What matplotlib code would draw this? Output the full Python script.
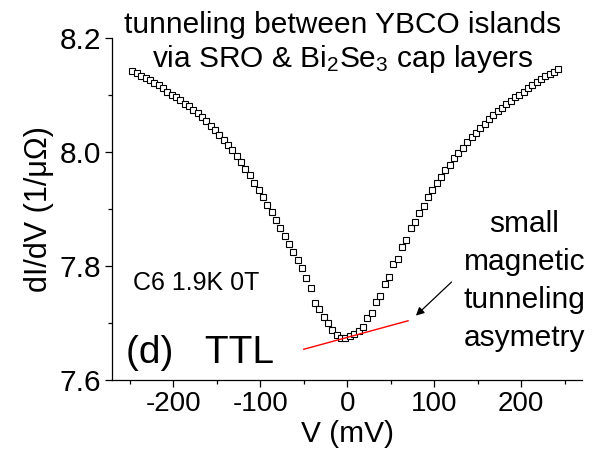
# ------------------------------------------------------ #
# dI/dV tunneling spectrum, YBCO islands via SRO & Bi2Se3
# ------------------------------------------------------ #
import matplotlib
matplotlib.use('Agg')
import matplotlib.pyplot as plt

# ------------------------------------------------------ #
# Data
# ------------------------------------------------------ #
bias_mv = [-247, -242, -237, -232, -227, -222, -217, -212, -207, -202,
           -197, -192, -187, -182, -177, -172, -167, -162, -157, -152,
           -147, -142, -137, -132, -127, -122, -117, -112, -107, -102,
           -97, -92, -87, -82, -77, -72, -67, -62, -57, -52,
           -47, -42, -37, -32, -27, -22, -17, -12, -7, -2,
           3, 8, 13, 18, 23, 28, 33, 38, 43, 48,
           53, 58, 63, 68, 73, 78, 83, 88, 93, 98,
           103, 108, 113, 118, 123, 128, 133, 138, 143, 148,
           153, 158, 163, 168, 173, 178, 183, 188, 193, 198,
           203, 208, 213, 218, 223, 228, 233, 238, 243]

didv = [8.142, 8.138, 8.134, 8.130, 8.126, 8.121, 8.117, 8.112, 8.106, 8.101,
        8.096, 8.091, 8.085, 8.080, 8.074, 8.068, 8.061, 8.054, 8.046, 8.038,
        8.030, 8.022, 8.013, 8.003, 7.993, 7.982, 7.971, 7.959, 7.946, 7.933,
        7.921, 7.908, 7.894, 7.880, 7.866, 7.852, 7.838, 7.824, 7.810, 7.796,
        7.779, 7.762, 7.735, 7.724, 7.710, 7.700, 7.687, 7.679, 7.673, 7.674,
        7.678, 7.680, 7.686, 7.693, 7.709, 7.718, 7.737, 7.748, 7.768, 7.781,
        7.803, 7.813, 7.834, 7.846, 7.866, 7.878, 7.893, 7.905, 7.922, 7.933,
        7.946, 7.956, 7.969, 7.978, 7.989, 7.998, 8.008, 8.017, 8.026, 8.034,
        8.043, 8.050, 8.058, 8.065, 8.072, 8.078, 8.085, 8.090, 8.096, 8.101,
        8.106, 8.112, 8.117, 8.123, 8.128, 8.133, 8.137, 8.141, 8.145]

# red asymmetry guide line (end points)
asym_v = [-50, 70]
asym_g = [7.654, 7.704]

x_ticks = [-200, -100, 0, 100, 200]
y_ticks = [7.6, 7.8, 8.0, 8.2]

# ------------------------------------------------------ #
# Style
# ------------------------------------------------------ #
plt.rcParams['font.family'] = ['Liberation Sans', 'DejaVu Sans']
plt.rcParams['mathtext.fontset'] = 'custom'
plt.rcParams['mathtext.rm'] = 'Liberation Sans'
plt.rcParams['mathtext.it'] = 'Liberation Sans:italic'
plt.rcParams['axes.unicode_minus'] = False

fig = plt.figure(figsize=(5.92, 4.59), dpi=100)
ax = fig.add_axes([0.190, 0.172, 0.793, 0.745])

ax.plot(bias_mv, didv, ls='none', marker='s', ms=5, mfc='white',
        mec='black', mew=0.8)
ax.plot(asym_v, asym_g, color='red', lw=1.0)

ax.set_xlim(-270, 270)
ax.set_ylim(7.6, 8.2)
ax.set_xticks(x_ticks)
ax.set_yticks(y_ticks)
ax.set_yticklabels(['%.1f' % t for t in y_ticks])
ax.set_xticks([-250, -150, -50, 50, 150, 250], minor=True)
ax.set_yticks([7.7, 7.9, 8.1], minor=True)
ax.tick_params(which='major', direction='out', length=5, width=0.9,
               labelsize=20, colors='black', pad=3)
ax.tick_params(axis='y', which='major', labelsize=21.5)
ax.tick_params(which='minor', direction='out', length=3, width=0.9)

for side in ['top', 'right']:
    ax.spines[side].set_visible(False)
for side in ['left', 'bottom']:
    ax.spines[side].set_linewidth(0.9)

ax.set_xlabel('V (mV)', fontsize=21.5, labelpad=2)
ax.set_ylabel('dI/dV (1/\u03bc\u03a9)', fontsize=22, labelpad=4)

# ------------------------------------------------------ #
# Annotations
# ------------------------------------------------------ #
fig.text(343 / 592, 1 - 33 / 459, 'tunneling between YBCO islands',
         ha='center', va='baseline', fontsize=21.5)
fig.text(343 / 592, 1 - 67 / 459,
         r'via SRO & Bi$_\mathregular{2}$Se$_\mathregular{3}$ cap layers',
         ha='center', va='baseline', fontsize=21.5)

ax.text(-246, 7.770, 'C6 1.9K 0T', fontsize=18, va='center', ha='left')
ax.text(-255, 7.630, '(d)   TTL', fontsize=28, va='baseline', ha='left')

ax.text(204, 7.898, 'small\nmagnetic\ntunneling\nasymetry', fontsize=21.5,
        ha='center', va='top', multialignment='center', linespacing=1.45,
        clip_on=False)

ax.annotate('', xy=(79, 7.713), xytext=(120, 7.772),
            arrowprops=dict(arrowstyle='-|>', color='black', lw=0.9,
                            mutation_scale=12, shrinkA=0, shrinkB=0))

fig.savefig('out.png', dpi=100)
